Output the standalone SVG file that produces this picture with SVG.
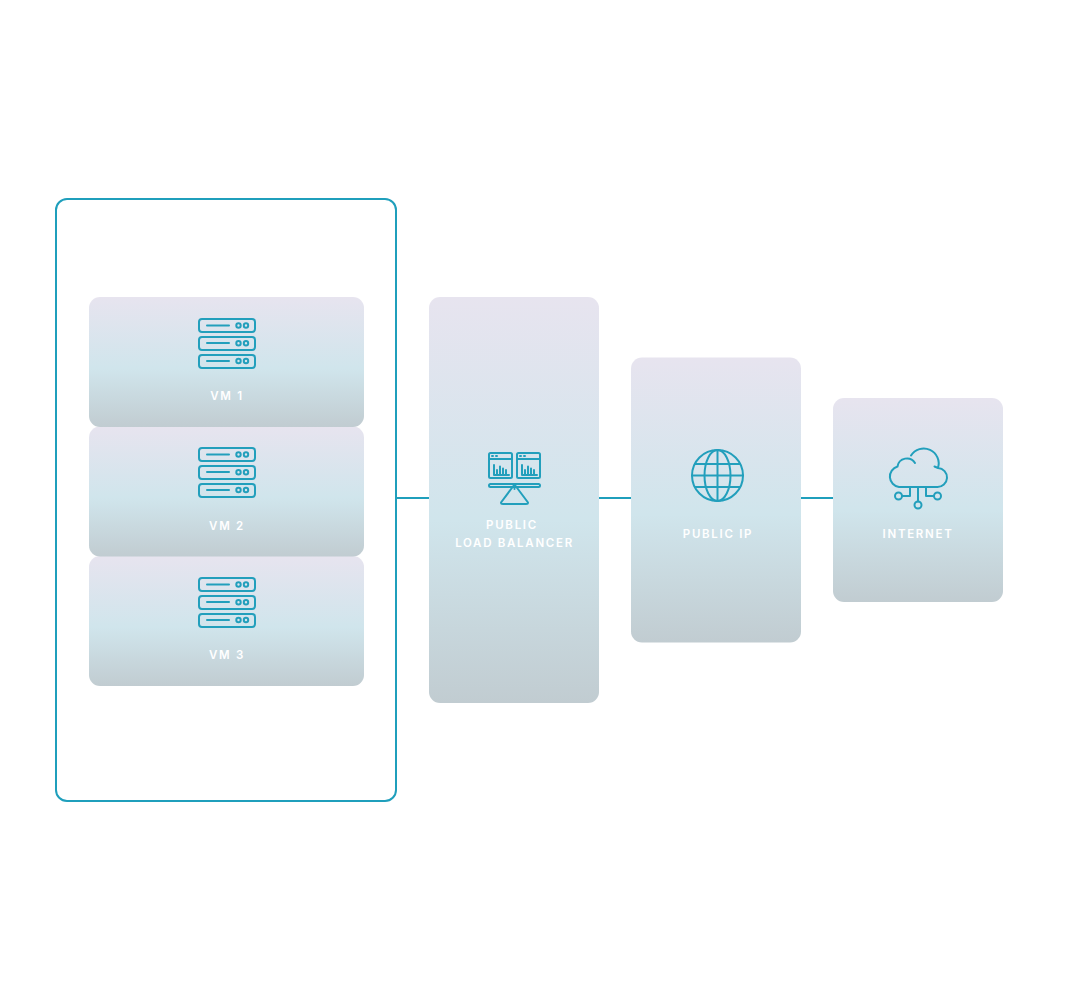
<svg xmlns="http://www.w3.org/2000/svg" width="1080" height="1000" viewBox="0 0 1080 1000">
<style>
.lbl{font-family:"Inter","Liberation Sans",sans-serif;font-size:11.5px;font-weight:600;letter-spacing:1.7px;fill:#fff;text-anchor:middle}
.ic{fill:none;stroke:#229fbc;stroke-width:2;stroke-linecap:round;stroke-linejoin:round}
.cn{stroke:#1f9fbc;stroke-width:2;fill:none}
</style>
<defs>
<linearGradient id="g" x1="0" y1="0" x2="0" y2="1">
<stop offset="0" stop-color="#e7e4ef"/><stop offset="0.55" stop-color="#d0e5ec"/><stop offset="1" stop-color="#c1ccd1"/>
</linearGradient>
<g id="server">
<rect class="ic" x="199" y="319" width="56" height="13" rx="3"/>
<path class="ic" d="M207 325.500H229"/><circle class="ic" cx="238.500" cy="325.500" r="2.200"/><circle class="ic" cx="246" cy="325.500" r="2.200"/>
<rect class="ic" x="199" y="337" width="56" height="13" rx="3"/>
<path class="ic" d="M207 343H229"/><circle class="ic" cx="238.500" cy="343.300" r="2.200"/><circle class="ic" cx="246" cy="343.300" r="2.200"/>
<rect class="ic" x="199" y="355" width="56" height="13" rx="3"/>
<path class="ic" d="M207 361H229"/><circle class="ic" cx="238.500" cy="361" r="2.200"/><circle class="ic" cx="246" cy="361" r="2.200"/>
</g>
<g id="win">
<rect class="ic" x="489" y="453" width="23" height="25" rx="1.500"/>
<path class="ic" d="M489 459H512M492 456H493M496 456H497M494 465V475H509M497 474V470M500 474V466.500M503 474V468.500M506 474V470"/>
</g>
</defs>
<rect width="1080" height="1000" fill="#fff"/>
<g id="connectors">
<path class="cn" d="M397 498H429M599 498H631M801 498H833"/>
</g>
<g id="group-vms"><rect x="56" y="199" width="340" height="602" rx="11" fill="#fff" stroke="#1f9fbc" stroke-width="2"/></g>
<g id="vm3"><rect x="89" y="556" width="275" height="130" rx="11" fill="url(#g)"/><use href="#server" y="259"/><text class="lbl" x="227" y="659">VM 3</text></g>
<g id="vm2"><rect x="89" y="426.500" width="275" height="130" rx="11" fill="url(#g)"/><use href="#server" y="129"/><text class="lbl" x="227" y="529.500">VM 2</text></g>
<g id="vm1"><rect x="89" y="297" width="275" height="130" rx="11" fill="url(#g)"/><use href="#server"/><text class="lbl" x="227" y="400">VM 1</text></g>
<g id="load-balancer"><rect x="429" y="297" width="170" height="406" rx="11" fill="url(#g)"/>
<use href="#win"/><use href="#win" x="28"/>
<rect class="ic" x="489" y="484" width="51" height="3" rx="1.500"/>
<path class="ic" d="M514.500 484.500L528 502.500Q528 504 526 504H503Q501 504 501 502.500Z"/>
<path class="ic" d="M514.500 488.500V489"/>
<text class="lbl" x="512" y="529">PUBLIC</text><text class="lbl" x="514.500" y="547">LOAD BALANCER</text></g>
<g id="public-ip"><rect x="631" y="357.500" width="170" height="285" rx="11" fill="url(#g)"/>
<circle class="ic" cx="717.500" cy="475.500" r="25.500"/><ellipse class="ic" cx="717.500" cy="475.500" rx="13" ry="25.500"/>
<path class="ic" d="M717.500 450V501M692 475.500H743M695 464H740M695 487H740"/>
<text class="lbl" x="718" y="538">PUBLIC IP</text></g>
<g id="internet"><rect x="833" y="398" width="170" height="204" rx="11" fill="url(#g)"/>
<path class="ic" d="M899 487H937A9.500 9.500 0 0 0 938 468A15 15 0 0 0 911 455.500M897.500 466.500A9.500 9.500 0 0 1 915 463M897.500 466.500A10.500 10.500 0 0 0 899 487M938 468L934.500 466.500"/>
<path class="ic" d="M910 487V496H902.500M918 487V501.500M926 487V496H933.500"/>
<circle class="ic" cx="898.500" cy="496" r="3.500"/><circle class="ic" cx="918" cy="505" r="3.500"/><circle class="ic" cx="937.500" cy="496" r="3.500"/>
<text class="lbl" x="918" y="538">INTERNET</text></g>
</svg>
